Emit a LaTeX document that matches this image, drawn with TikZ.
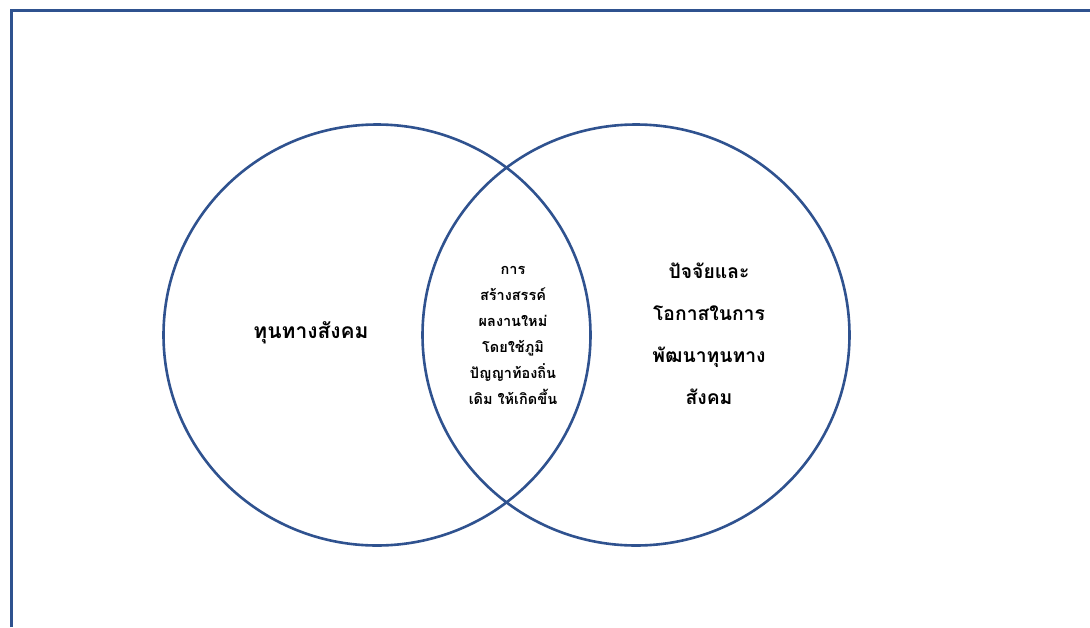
\documentclass[tikz,border=0pt]{standalone}
\usepackage{fontspec}
\usepackage{tikz}
\usetikzlibrary{shapes,%
                positioning}
\newfontfamily\thaifont[Script=Thai]{Loma}
\definecolor{vennblue}{RGB}{47,82,143}
\tikzset{venncircle/.style={
			  ellipse,
			  minimum width   = 427pt,
			  minimum height  = 421pt,
			  line width      = 2.6pt,
			  draw            = vennblue
			}}
\tikzset{venntext/.style={
			  text centered,
			  align           = center,
			  inner sep       = 0pt,
			  text            = black
			}}
\begin{document}
\begin{tikzpicture}[x=1pt, y=-1pt]
    \useasboundingbox (0,0) rectangle (1090,627);

    \node (social)  [venncircle] at (377,335) {};
    \node (factors) [venncircle] at (636,335) {};

    \node (lefttext)   [venntext, font=\thaifont\bfseries\fontsize{21}{24}\selectfont]
          at (311,333) {ทุนทางสังคม};
    \node (middletext) [venntext, font=\thaifont\bfseries\fontsize{14.5}{26}\selectfont]
          at (513,335) {การ\\สร้างสรรค์\\ผลงานใหม่\\โดยใช้ภูมิ\\ปัญญาท้องถิ่น\\เดิม ให้เกิดขึ้น};
    \node (righttext)  [venntext, font=\thaifont\bfseries\fontsize{19.3}{42}\selectfont]
          at (709,334) {ปัจจัยและ\\โอกาสในการ\\พัฒนาทุนทาง\\สังคม};

    % frame
    \coordinate (frame_bl) at (11,627);
    \coordinate (frame_tl) at (11,10);
    \coordinate (frame_tr) at (1090,10);
    \draw [vennblue, line width=3pt] (frame_bl) -- (frame_tl) -- (frame_tr);

\end{tikzpicture}
\end{document}
